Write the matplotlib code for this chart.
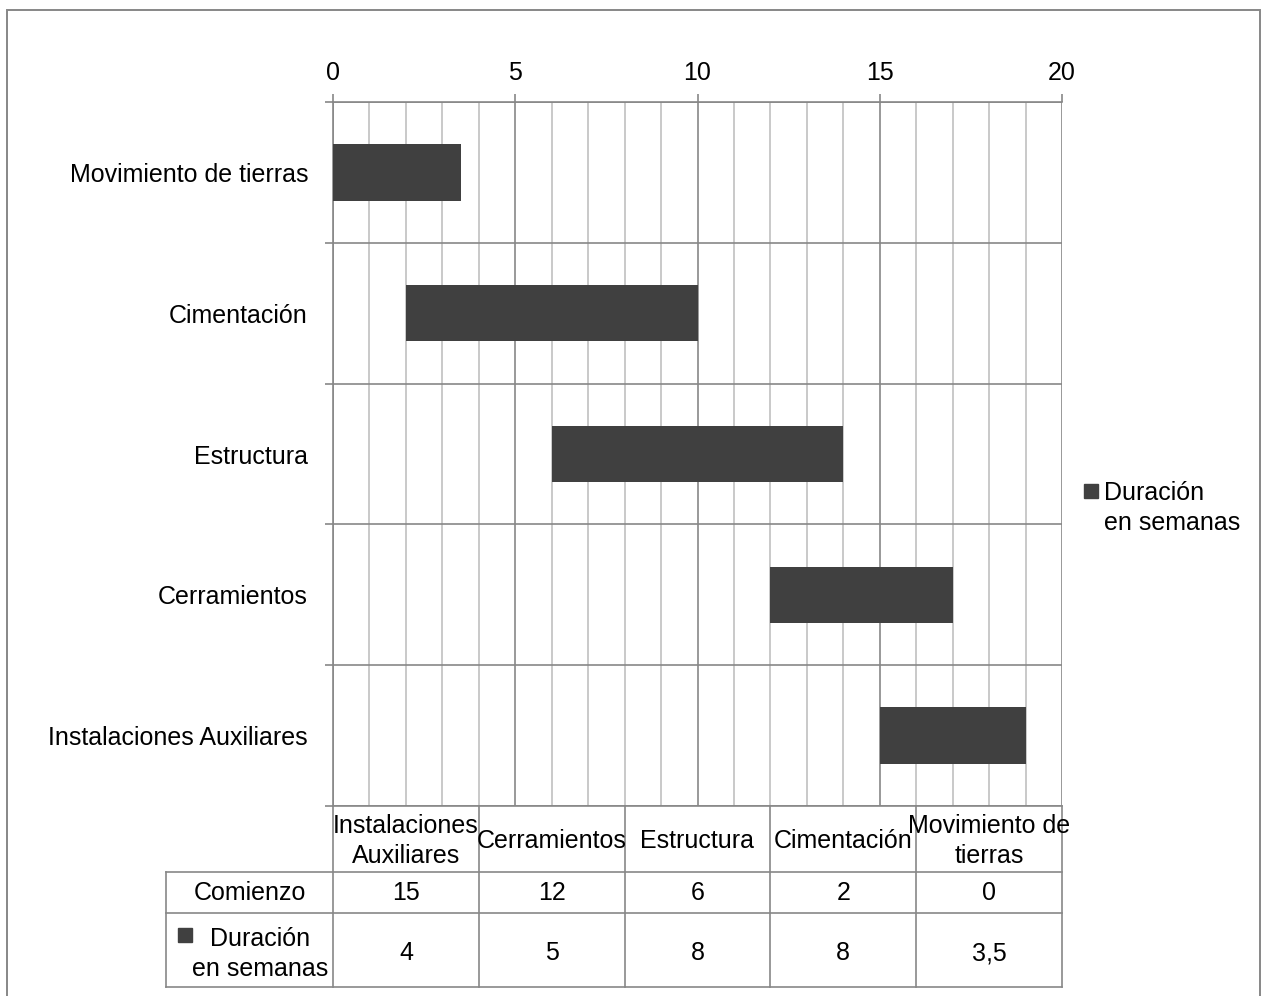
import matplotlib
matplotlib.use("Agg")
import matplotlib.pyplot as plt
from matplotlib.patches import Rectangle
from matplotlib.ticker import MultipleLocator, FixedLocator

plt.rcParams['font.family'] = ['Liberation Sans', 'DejaVu Sans']

# datos (orden de la tabla de Excel)
tareas = ["Instalaciones Auxiliares", "Cerramientos", "Estructura",
          "Cimentación", "Movimiento de tierras"]
cabeceras = ["Instalaciones\nAuxiliares", "Cerramientos", "Estructura",
             "Cimentación", "Movimiento de\ntierras"]
comienzo = [15, 12, 6, 2, 0]
duracion = [4, 5, 8, 8, 3.5]
duracion_txt = ["4", "5", "8", "8", "3,5"]

BAR = "#404040"
GRID_MAJ = "#878787"
GRID_MIN = "#c0c0c0"
FS = 18

W, H = 1265, 996
fig = plt.figure(figsize=(W / 100, H / 100), dpi=100)

# borde exterior del grafico (el borde inferior queda fuera de la imagen)
fig.patches.append(Rectangle((7 / W, -10 / H), 1253 / W, 996 / H, transform=fig.transFigure,
                             fill=False, edgecolor=GRID_MAJ, linewidth=1.4))

x0, x1 = 333, 1062
y_top, y_bot = 102, 806
ax = fig.add_axes([x0 / W, 1 - y_bot / H, (x1 - x0) / W, (y_bot - y_top) / H])

pos = list(range(len(tareas)))
ax.barh(pos, duracion, left=comienzo, height=0.4, color=BAR, zorder=3)

ax.set_xlim(0, 20)
ax.set_ylim(-0.5, len(tareas) - 0.5)

# eje x arriba
ax.xaxis.tick_top()
ax.xaxis.set_major_locator(MultipleLocator(5))
ax.xaxis.set_minor_locator(MultipleLocator(1))
ax.tick_params(axis='x', which='major', length=6, width=1.2, color=GRID_MAJ,
               labelsize=FS, pad=6)
ax.tick_params(axis='x', which='minor', length=0)
ax.grid(True, axis='x', which='major', color=GRID_MAJ, linewidth=1.2, zorder=1)
ax.grid(True, axis='x', which='minor', color=GRID_MIN, linewidth=1.2, zorder=0)

# eje y: etiquetas y lineas entre categorias
ax.set_yticks(pos)
ax.set_yticklabels(tareas)
ax.yaxis.set_minor_locator(FixedLocator([p - 0.5 for p in pos] + [len(tareas) - 0.5]))
ax.tick_params(axis='y', which='major', length=0, labelsize=FS, pad=18)
ax.tick_params(axis='y', which='minor', length=6, width=1.2, color=GRID_MAJ)
ax.grid(True, axis='y', which='minor', color=GRID_MAJ, linewidth=1.2, zorder=1)

for s in ['top', 'bottom', 'left']:
    ax.spines[s].set_color(GRID_MAJ)
    ax.spines[s].set_linewidth(1.2)
ax.spines['right'].set_visible(False)

# leyenda a la derecha
fig.patches.append(Rectangle((1084 / W, 1 - 498 / H), 14 / W, 14 / H,
                             transform=fig.transFigure, color=BAR))
fig.text(1104 / W, 1 - 508 / H, "Duración\nen semanas", fontsize=FS, va='center',
         ha='left', linespacing=1.35)

# tabla de datos
lab_w = (x0 - 166) / (x1 - x0) * 20
filas = [66, 41, 74]
tb = fig.add_axes([166 / W, 1 - (y_bot + sum(filas)) / H, (x1 - 166) / W, sum(filas) / H])
tb.set_xlim(-lab_w, 20)
tb.set_ylim(sum(filas), 0)
tb.axis('off')

col_w = 20 / len(tareas)
bordes = [i * col_w for i in range(len(tareas) + 1)]
lw = dict(color=GRID_MAJ, linewidth=1.2, clip_on=False)
for xb in bordes:
    tb.plot([xb, xb], [0, sum(filas)], **lw)
tb.plot([-lab_w, -lab_w], [filas[0], sum(filas)], **lw)
yacc = 0
for h in filas:
    yacc += h
    tb.plot([-lab_w, 20], [yacc, yacc], **lw)

for i in range(len(tareas)):
    xc = bordes[i] + col_w / 2
    tb.text(xc, filas[0] / 2 + 2, cabeceras[i], ha='center', va='center', fontsize=FS,
            linespacing=1.3)
    tb.text(xc, filas[0] + filas[1] / 2, str(comienzo[i]), ha='center', va='center',
            fontsize=FS)
    tb.text(xc, filas[0] + filas[1] + filas[2] / 2 + 3, duracion_txt[i], ha='center',
            va='center', fontsize=FS)

tb.text(-lab_w / 2, filas[0] + filas[1] / 2, "Comienzo", ha='center', va='center',
        fontsize=FS)
tb.text(-lab_w / 2 + 0.3, filas[0] + filas[1] + filas[2] / 2 + 4, "Duración\nen semanas",
        ha='center', va='center', fontsize=FS, linespacing=1.3)
fig.patches.append(Rectangle((178 / W, 1 - 942 / H), 14 / W, 14 / H,
                             transform=fig.transFigure, color=BAR))

fig.savefig("out.png", dpi=100)
